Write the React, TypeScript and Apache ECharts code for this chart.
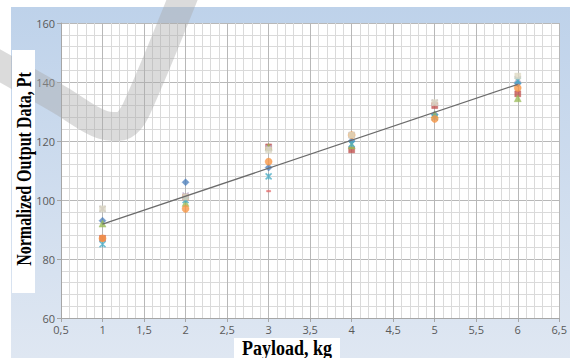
import React, { useEffect, useRef } from "react";
import * as echarts from "echarts";

const xValues = [1, 2, 3, 4, 5, 6];
const blueDiamond = [93, 106, 111, 120, 129, 139.5];
const redSquare = [87, 101, 118, 117, 132, 136];
const greenTriangle = [92, 99, 118, 118.5, 129, 134.5];
const purpleX = [97, 101.5, 117.5, 122, 133, 141];
const cyanStar = [85, 100, 108, 119, 128, 140.5];
const orangeCircle = [87, 97, 113, 122, 127.5, 138];
const tanSquare = [97, 101, 117, 122, 133, 142];
const redDash = [null, null, 103, null, null, null];
const trendX = [1, 6];
const trendY = [91.8, 139.2];

const X_PATH = "path://M0,0L10,10M10,0L0,10";
const STAR_PATH = "path://M0,0L10,10M10,0L0,10M5,0L5,10";

function pts(ys: (number | null)[]) {
  return xValues.map((x, i) => (ys[i] == null ? null : [x, ys[i]])).filter(Boolean);
}

function scatter(name: string, ys: (number | null)[], symbol: string, color: string, size: number, stroke = false, symbolSize?: any) {
  return {
    name,
    type: "scatter",
    data: pts(ys),
    symbol,
    symbolSize: symbolSize ?? size,
    itemStyle: stroke
      ? { color: "rgba(0,0,0,0)", borderColor: color, borderWidth: 1.5 }
      : { color, borderColor: color, borderWidth: 0.5 },
    z: 3,
  };
}

const fmt = (v: number) => String(v).replace(".", ",");

export default function App() {
  const ref = useRef<HTMLDivElement>(null);
  useEffect(() => {
    const chart = echarts.init(ref.current!, null, { renderer: "svg" });
    chart.setOption({
      animation: false,
      grid: {
        left: 61,
        right: 8,
        top: 23,
        bottom: 40,
        show: true,
        backgroundColor: "#ffffff",
        borderWidth: 0,
      },
      xAxis: {
        type: "value",
        min: 0.5,
        max: 6.5,
        interval: 0.5,
        axisLine: { show: true, lineStyle: { color: "#a6a6a6" } },
        axisTick: { show: true, length: 4, lineStyle: { color: "#a6a6a6" } },
        axisLabel: { formatter: fmt, color: "#595959", fontSize: 11, fontFamily: "Open Sans", margin: 6 },
        splitLine: { show: true, lineStyle: { color: "#b8b8b8", width: 1 } },
        minorTick: { show: false, splitNumber: 5 },
        minorSplitLine: { show: true, lineStyle: { color: "#dadada", width: 1 } },
      },
      yAxis: {
        type: "value",
        min: 60,
        max: 160,
        interval: 20,
        axisLine: { show: true, lineStyle: { color: "#a6a6a6" } },
        axisTick: { show: true, length: 4, lineStyle: { color: "#a6a6a6" } },
        axisLabel: { color: "#595959", fontSize: 11, fontFamily: "Open Sans", margin: 6 },
        splitLine: { show: true, lineStyle: { color: "#b8b8b8", width: 1 } },
        minorTick: { show: false, splitNumber: 5 },
        minorSplitLine: { show: true, lineStyle: { color: "#dadada", width: 1 } },
      },
      graphic: [
        {
          type: "rect",
          z: -10,
          silent: true,
          shape: { x: 11, y: 7, width: 559, height: 351 },
          style: {
            fill: new echarts.graphic.LinearGradient(0, 0, 0, 1, [
              { offset: 0, color: "#bed2ea" },
              { offset: 1, color: "#dfe7f2" },
            ]),
          },
        },
        {
          type: "polyline",
          z: 50,
          silent: true,
          shape: {
            points: [
              [-14, 58],
              [60, 100],
              [92, 120],
              [108, 126],
              [124, 125],
              [136, 110],
              [186, -10],
            ],
            smooth: 0.3,
          },
          style: { stroke: "rgba(170,170,170,0.42)", lineWidth: 29, fill: null },
        },
        {
          type: "rect",
          z: 60,
          silent: true,
          shape: { x: 12, y: 50, width: 23, height: 243 },
          style: { fill: "#ffffff" },
        },
        {
          type: "text",
          z: 61,
          silent: true,
          x: 24,
          y: 169,
          rotation: Math.PI / 2,
          scaleX: 0.8,
          scaleY: 1.1,
          style: {
            text: "Normalized Output Data, Pt",
            font: "bold 20px 'Liberation Serif'",
            fill: "#000000",
            align: "center",
            verticalAlign: "middle",
          },
        },
        {
          type: "rect",
          z: 60,
          silent: true,
          shape: { x: 234, y: 338, width: 106, height: 20 },
          style: { fill: "#ffffff" },
        },
        {
          type: "text",
          z: 61,
          silent: true,
          x: 287,
          y: 348,
          scaleX: 0.9,
          style: {
            text: "Payload, kg",
            font: "bold 20px 'Liberation Serif'",
            fill: "#000000",
            align: "center",
            verticalAlign: "middle",
          },
        },
      ],
      series: [
        {
          name: "Trend",
          type: "line",
          data: trendX.map((x, i) => [x, trendY[i]]),
          symbol: "none",
          lineStyle: { color: "#6b6b6b", width: 1.2 },
          z: 4,
        },
        scatter("S1", blueDiamond, "diamond", "#4f81bd", 7),
        scatter("S2", redSquare, "rect", "#c0504d", 6),
        scatter("S3", greenTriangle, "triangle", "#9bbb59", 7),
        scatter("S4", purpleX, X_PATH, "#b7a6c9", 6, true),
        scatter("S5", cyanStar, STAR_PATH, "#4bacc6", 6, true),
        scatter("S6", orangeCircle, "circle", "#f79646", 7),
        scatter("S7", tanSquare, "rect", "#ddd9c3", 6),
        scatter("S8", redDash, "rect", "#e46c6c", 4, false, [4, 1.5]),
      ],
    });
    return () => chart.dispose();
  }, []);
  return <div ref={ref} style={{ position: "absolute", left: 0, top: 0, width: 570, height: 358 }} />;
}
